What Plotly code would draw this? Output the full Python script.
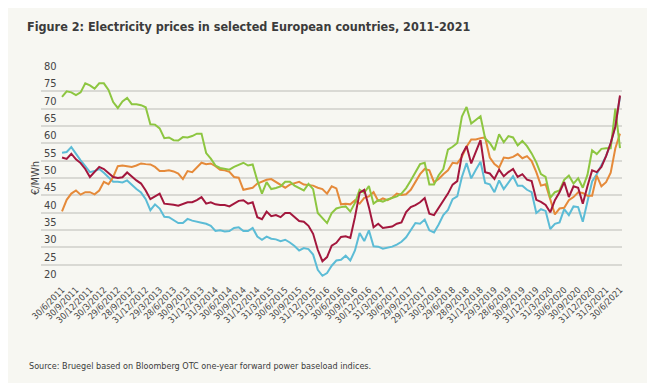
import plotly.graph_objects as go

# Quarter-end labels shown on the x axis (one every 3 monthly observations)
tick_labels = ["30/6/2011", "30/9/2011", "30/12/2011", "30/3/2012", "29/6/2012", "28/9/2012",
               "31/12/2012", "29/3/2013", "28/6/2013", "30/9/2013", "31/12/2013", "31/3/2014",
               "30/6/2014", "30/9/2014", "31/12/2014", "31/3/2015", "30/6/2015", "30/9/2015",
               "31/12/2015", "31/3/2016", "30/6/2016", "30/9/2016", "30/12/2016", "31/3/2017",
               "30/6/2017", "29/9/2017", "29/12/2017", "30/3/2018", "29/6/2018", "28/9/2018",
               "31/12/2018", "29/3/2019", "28/6/2019", "30/9/2019", "31/12/2019", "31/3/2020",
               "30/6/2020", "30/9/2020", "31/12/2020", "31/3/2021", "30/6/2021"]

# Monthly values (EUR/MWh), June 2011 .. June 2021
blue_vals = [57.3, 57.5, 58.9, 56.9, 55.1, 53.4, 51.7, 52.0, 52.6, 51.5, 50.3, 48.9, 48.9, 48.7, 49.3,
             47.9, 46.8, 45.8, 43.9, 40.7, 42.4, 41.2, 38.8, 38.7, 37.8, 37.0, 37.0, 38.2, 37.7, 37.3,
             37.1, 36.8, 36.2, 34.7, 34.9, 34.6, 34.7, 35.6, 35.8, 34.7, 34.7, 35.6, 33.1, 32.2, 33.1,
             32.5, 32.3, 31.8, 32.2, 31.4, 30.4, 29.1, 29.8, 29.5, 27.9, 23.5, 21.8, 22.6, 24.7, 26.2,
             26.4, 27.6, 26.2, 29.1, 34.1, 31.8, 34.9, 30.3, 30.2, 29.6, 29.8, 30.2, 30.8, 31.6, 32.9,
             34.9, 37.0, 36.8, 38.0, 34.9, 34.3, 36.6, 39.3, 40.8, 43.9, 44.7, 50.3, 54.3, 49.9, 52.4,
             54.7, 48.6, 48.2, 45.9, 49.3, 46.8, 48.6, 50.5, 47.8, 47.8, 46.6, 45.9, 39.9, 41.0, 40.5,
             35.3, 36.8, 37.2, 41.0, 39.3, 41.8, 41.6, 37.4, 43.6, 49.0, 51.1, 53.6, 56.3, 59.9, 65.1,
             73.4]

red_vals = [55.9, 55.5, 57.0, 55.4, 54.3, 52.6, 50.3, 51.7, 53.2, 52.6, 51.5, 50.3, 50.0, 50.2, 51.6,
            50.3, 49.3, 48.4, 46.4, 43.9, 44.7, 45.5, 42.6, 42.5, 42.3, 42.0, 42.4, 43.0, 43.0, 43.6,
            44.5, 42.6, 43.0, 42.4, 42.2, 42.2, 41.8, 42.6, 43.4, 43.6, 42.6, 43.0, 38.7, 38.1, 40.3,
            39.0, 39.3, 38.7, 39.9, 39.9, 38.7, 37.6, 37.4, 36.2, 33.9, 29.3, 26.0, 27.2, 30.5, 31.3,
            33.0, 33.2, 32.7, 38.7, 45.7, 46.6, 41.6, 35.8, 36.8, 35.6, 35.8, 36.0, 36.8, 37.2, 40.2,
            41.6, 42.2, 43.0, 44.2, 39.7, 39.3, 41.4, 43.7, 45.5, 48.1, 49.1, 56.7, 59.2, 54.2, 57.5,
            60.9, 51.7, 51.3, 49.7, 52.4, 50.5, 51.7, 52.6, 50.3, 51.1, 49.5, 49.1, 43.7, 43.1, 42.2,
            40.1, 43.6, 45.9, 48.8, 44.5, 47.6, 47.2, 42.6, 47.6, 52.2, 51.7, 53.2, 56.3, 60.1, 64.8,
            73.8]

green_vals = [73.4, 75.0, 74.7, 73.9, 74.7, 77.3, 76.7, 75.8, 77.3, 77.3, 75.4, 71.9, 70.2, 72.1, 73.1,
              71.3, 71.3, 71.0, 70.4, 65.5, 65.4, 64.3, 61.5, 61.7, 60.9, 60.8, 61.8, 61.7, 62.1, 62.8,
              62.8, 57.2, 55.6, 53.6, 52.9, 52.7, 52.4, 53.2, 53.8, 54.4, 53.6, 53.9, 49.3, 45.5, 48.8,
              46.8, 47.1, 47.6, 48.9, 48.9, 47.8, 47.0, 46.4, 48.3, 46.8, 39.9, 38.5, 37.0, 39.9, 41.2,
              41.6, 41.8, 40.3, 42.8, 46.6, 45.7, 47.7, 42.6, 43.6, 43.2, 43.8, 44.3, 44.7, 45.5, 47.1,
              49.3, 51.5, 54.0, 54.4, 48.1, 48.1, 50.8, 52.6, 58.2, 59.0, 60.1, 67.7, 70.5, 65.7, 66.7,
              67.8, 61.4, 60.1, 58.0, 62.6, 60.3, 62.1, 61.7, 59.4, 60.7, 59.2, 57.1, 54.5, 51.1, 50.3,
              44.3, 45.9, 46.4, 49.5, 50.7, 48.4, 49.9, 47.2, 50.9, 58.0, 56.9, 58.4, 58.6, 58.6, 70.0,
              58.6]

orange_vals = [40.4, 43.7, 45.5, 46.4, 45.2, 45.9, 45.9, 45.3, 46.4, 48.9, 48.2, 50.3, 53.4, 53.6, 53.4,
               53.2, 53.6, 54.2, 54.0, 53.9, 53.2, 52.0, 52.0, 52.2, 51.9, 51.3, 49.7, 52.0, 51.7, 53.2,
               54.4, 54.0, 54.2, 53.4, 52.4, 52.2, 51.8, 50.3, 50.1, 46.6, 46.8, 47.2, 48.4, 48.9, 49.5,
               49.7, 48.9, 48.2, 47.2, 48.1, 48.4, 48.9, 48.1, 48.0, 47.8, 47.2, 46.8, 45.5, 47.6, 47.0,
               42.4, 42.6, 42.4, 43.6, 42.6, 44.3, 44.7, 45.9, 43.4, 44.1, 43.6, 44.3, 45.5, 45.1, 45.3,
               46.6, 48.9, 51.1, 52.6, 52.2, 48.8, 49.7, 51.1, 52.2, 54.4, 54.2, 56.1, 59.0, 61.1, 61.1,
               61.5, 61.7, 55.9, 54.0, 53.0, 55.9, 55.7, 56.1, 56.9, 55.7, 56.3, 54.9, 51.7, 47.8, 48.2,
               44.1, 39.5, 41.2, 41.4, 43.6, 44.5, 45.9, 45.7, 44.9, 44.9, 50.7, 47.6, 48.8, 51.5, 58.6,
               62.8]

y_ticks = [20, 25, 30, 35, 40, 45, 50, 55, 60, 65, 70, 75, 80]

months = list(range(len(blue_vals)))
tick_pos = list(range(0, len(blue_vals), 3))

BG = "#f7f7f2"
FONT = "DejaVu Sans Condensed, sans-serif"
series = [
    ("Series 4", blue_vals, "#5cbcd6"),
    ("Series 2", orange_vals, "#e58a3a"),
    ("Series 1", green_vals, "#8dc641"),
    ("Series 3", red_vals, "#a3173d"),
]

fig = go.Figure()
for name, vals, col in series:
    fig.add_trace(go.Scatter(x=months, y=vals, mode="lines", name=name,
                             line=dict(color=col, width=2), hoverinfo="y"))

fig.update_layout(
    width=655, height=383,
    paper_bgcolor=BG, plot_bgcolor=BG,
    showlegend=False,
    margin=dict(l=33, r=41, t=66, b=109),
    title=dict(
        text="Figure 2: Electricity prices in selected European countries, 2011-2021",
        x=19 / 655, xanchor="left", y=1 - 19 / 383, yanchor="middle",
        font=dict(family=FONT, size=12.5, color="#3b3b3b", weight="bold"),
    ),
    xaxis=dict(
        range=[-4.52, 120.43],
        tickmode="array", tickvals=tick_pos, ticktext=tick_labels,
        tickangle=-45, showgrid=False, zeroline=False, showline=False,
        ticks="", tickfont=dict(family=FONT, size=9, color="#444444"),
    ),
    yaxis=dict(
        range=[20, 80], tickmode="array", tickvals=y_ticks,
        ticklabelposition="inside top", ticklabeloverflow="allow",
        showgrid=True, gridcolor="#d9d9d4", gridwidth=1.5,
        zeroline=False, showline=False, ticks="", ticklen=0,
        tickfont=dict(family=FONT, size=11, color="#444444"),
        title=dict(text="€/MWh", standoff=2,
                   font=dict(family=FONT, size=11, color="#444444")),
    ),
    annotations=[dict(
        text="Source: Bruegel based on Bloomberg OTC one-year forward power baseload indices.",
        xref="paper", yref="paper", x=-14 / 581, y=-(358 - 274) / 208,
        xanchor="left", yanchor="middle", showarrow=False,
        font=dict(family=FONT, size=9, color="#3b3b3b"),
    )],
)

fig.write_html("out.html")
